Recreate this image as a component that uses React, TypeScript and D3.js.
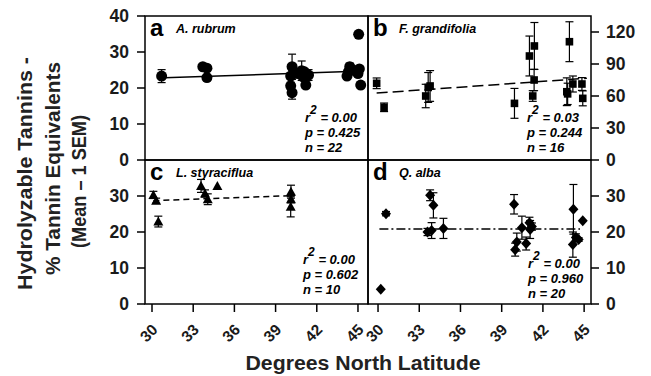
import React from 'react';
import * as d3 from 'd3';

// panel a — A. rubrum (circles)
const aLat = [30.7, 33.7, 34.0, 34.0, 40.2, 40.1, 40.1, 40.2, 40.9, 41.0, 41.2, 41.4, 40.6, 41.1, 44.2, 44.4, 44.6, 45.1, 45.2, 45.05, 44.3, 45.0];
const aVal = [23.3, 25.9, 25.5, 22.9, 25.9, 23.3, 20.6, 18.7, 24.8, 23.1, 20.8, 23.6, 24.0, 24.5, 23.3, 25.9, 25.0, 25.3, 20.8, 34.9, 24.5, 24.0];
const aErr = [1.8, 0.5, 0.5, 0.5, 3.5, 0.8, 1.0, 1.8, 2.7, 0.5, 0.8, 1.5, 0.5, 0.5, 0.5, 1.0, 0.8, 0.5, 0.5, 0, 0.5, 0.5];

// panel b — F. grandifolia (squares)
const bLat = [29.9, 30.44, 33.47, 33.79, 33.65, 39.93, 41.02, 41.38, 41.36, 41.26, 43.93, 43.74, 44.18, 44.84, 44.9, 43.8];
const bVal = [71.9, 49.4, 60, 69.4, 68, 53.1, 97.5, 106.9, 75, 60, 110.9, 64, 71.25, 71.25, 57.8, 62];
const bErr = [5, 4, 11, 14.4, 14, 14, 18.7, 22, 10, 5, 18.7, 13, 7.5, 6, 7, 10];

// panel c — L. styraciflua (triangles)
const cLat = [30.1, 30.3, 30.46, 33.57, 33.86, 34.06, 34.76, 40.12, 40.12, 40.1];
const cVal = [30.3, 28.7, 22.9, 32.8, 30.7, 29.1, 32.8, 31.2, 29.1, 27.0];
const cErr = [1, 0.7, 1.5, 1.8, 1, 1.5, 0.3, 1.8, 1, 2.8];

// panel d — Q. alba (diamonds)
const dLat = [30.2, 30.58, 33.79, 34.03, 33.6, 33.9, 34.76, 39.9, 40.1, 39.98, 40.47, 40.78, 41.02, 41.07, 44.22, 44.18, 44.6, 44.9, 44.4, 41.2];
const dVal = [4.1, 25.1, 30.2, 27.4, 20.0, 20.4, 21.0, 27.7, 17.2, 15.1, 21.2, 16.8, 22.6, 20.7, 26.3, 16.5, 17.9, 23.1, 18.5, 21.5];
const dErr = [0.3, 0.6, 1.5, 3.5, 1, 2.2, 2.8, 2.7, 2.5, 1.8, 3.2, 1.8, 1.5, 2.5, 6.9, 3.5, 0.5, 0.3, 1, 1];

// regression end points [lat0, val0, lat1, val1]
const aFit = [30.35, 22.75, 45.4, 24.75];
const bFit = [29.9, 62.8, 45.2, 76.6];
const cFit = [30.1, 28.7, 40.1, 30.1];
const dFit = [30.1, 20.8, 44.7, 20.8];

const latTicks = [30, 33, 36, 39, 42, 45];
const leftTopTicks = [0, 10, 20, 30, 40];
const lowTicks = [0, 10, 20, 30];
const bTicks = [0, 30, 60, 90, 120];

const FONT = '"Liberation Sans", Arial, Helvetica, sans-serif';

type Shape = 'circle' | 'square' | 'triangle' | 'diamond';

function Marker({ shape, x, y }: { shape: Shape; x: number; y: number }) {
  if (shape === 'circle') return <circle cx={x} cy={y} r={5.5} fill="#000" />;
  if (shape === 'square') return <rect x={x - 3.8} y={y - 3.8} width={7.6} height={7.6} fill="#000" />;
  if (shape === 'triangle') return <path d={`M${x},${y - 5}L${x + 5},${y + 4}L${x - 5},${y + 4}Z`} fill="#000" />;
  return <path d={`M${x},${y - 5.5}L${x + 5},${y}L${x},${y + 5.5}L${x - 5},${y}Z`} fill="#000" />;
}

interface PanelProps {
  lat: number[];
  val: number[];
  err: number[];
  fit: number[];
  dash: string;
  shape: Shape;
  x: d3.ScaleLinear<number, number>;
  y: d3.ScaleLinear<number, number>;
  letter: string;
  species: string;
  stats: string[];
  statsX: number;
  statsY: number;
}

function Panel({ lat, val, err, fit, dash, shape, x, y, letter, species, stats, statsX, statsY }: PanelProps) {
  const [x0, x1] = x.range();
  const [y0, y1] = y.range();
  return (
    <g>
      {/* fit line */}
      <line x1={x(fit[0])} y1={y(fit[1])} x2={x(fit[2])} y2={y(fit[3])} stroke="#000" strokeWidth={1.5} strokeDasharray={dash} />
      {/* error bars */}
      {lat.map((l, i) =>
        err[i] > 0.4 ? (
          <g key={'e' + i} stroke="#000" strokeWidth={1.2}>
            <line x1={x(l)} x2={x(l)} y1={y(val[i] - err[i])} y2={y(val[i] + err[i])} />
            <line x1={x(l) - 4} x2={x(l) + 4} y1={y(val[i] - err[i])} y2={y(val[i] - err[i])} />
            <line x1={x(l) - 4} x2={x(l) + 4} y1={y(val[i] + err[i])} y2={y(val[i] + err[i])} />
          </g>
        ) : null
      )}
      {lat.map((l, i) => (
        <Marker key={'m' + i} shape={shape} x={x(l)} y={y(val[i])} />
      ))}
      <rect x={x0} y={y1} width={x1 - x0} height={y0 - y1} fill="none" stroke="#000" strokeWidth={1.5} />
      <text x={x0 + 5} y={y1 + 20} fontSize={24} fontWeight="bold" fontFamily={FONT}>{letter}</text>
      <text x={x0 + 31} y={y1 + 17} fontSize={12.5} fontWeight="bold" fontStyle="italic" fontFamily={FONT}>{species}</text>
      <text x={statsX} y={statsY} fontSize={13} fontWeight="bold" fontStyle="italic" fontFamily={FONT}>
        r<tspan dy={-8} fontSize={12}>2</tspan><tspan dy={8}> {stats[0]}</tspan>
      </text>
      <text x={statsX} y={statsY + 15} fontSize={13} fontWeight="bold" fontStyle="italic" fontFamily={FONT}>{stats[1]}</text>
      <text x={statsX} y={statsY + 30} fontSize={13} fontWeight="bold" fontStyle="italic" fontFamily={FONT}>{stats[2]}</text>
    </g>
  );
}

export default function App() {
  const xL = d3.scaleLinear().domain([29.49, 45.73]).range([145, 368]);
  const xR = d3.scaleLinear().domain([29.27, 45.5]).range([368, 591]);
  const yTop = d3.scaleLinear().domain([0, 40]).range([160, 16]);
  const yLow = d3.scaleLinear().domain([0, 40]).range([304, 160]);
  const yB = d3.scaleLinear().domain([0, 135]).range([160, 16]);

  const tickLabel = { fontSize: 17.5, fontWeight: 'bold' as const, fontFamily: FONT, fill: '#1a1a1a' };

  return (
    <svg width={651} height={376} style={{ position: 'absolute', left: 0, top: 0, background: '#fff' }}>
      <rect width={651} height={376} fill="#fff" />
      <Panel lat={aLat} val={aVal} err={aErr} fit={aFit} dash="none" shape="circle" x={xL} y={yTop}
        letter="a" species="A. rubrum" stats={['= 0.00', 'p = 0.425', 'n = 22']} statsX={305} statsY={122} />
      <Panel lat={bLat} val={bVal} err={bErr} fit={bFit} dash="11,5" shape="square" x={xR} y={yB}
        letter="b" species="F. grandifolia" stats={['= 0.03', 'p = 0.244', 'n = 16']} statsX={527} statsY={122} />
      <Panel lat={cLat} val={cVal} err={cErr} fit={cFit} dash="6,4" shape="triangle" x={xL} y={yLow}
        letter="c" species="L. styraciflua" stats={['= 0.00', 'p = 0.602', 'n = 10']} statsX={303} statsY={264} />
      <Panel lat={dLat} val={dVal} err={dErr} fit={dFit} dash="9,3,2,3" shape="diamond" x={xR} y={yLow}
        letter="d" species="Q. alba" stats={['= 0.00', 'p = 0.960', 'n = 20']} statsX={528} statsY={268} />

      {/* left axes */}
      {leftTopTicks.map((t) => (
        <g key={'lt' + t}>
          <line x1={137} x2={145} y1={yTop(t)} y2={yTop(t)} stroke="#000" strokeWidth={1.5} />
          <text x={129} y={yTop(t)} dy="0.36em" textAnchor="end" {...tickLabel}>{t}</text>
        </g>
      ))}
      {lowTicks.map((t) => (
        <g key={'ll' + t}>
          <line x1={137} x2={145} y1={yLow(t)} y2={yLow(t)} stroke="#000" strokeWidth={1.5} />
          <text x={129} y={yLow(t)} dy="0.36em" textAnchor="end" {...tickLabel}>{t}</text>
        </g>
      ))}
      {/* right axes */}
      {bTicks.map((t) => (
        <g key={'rb' + t}>
          <line x1={591} x2={599} y1={yB(t)} y2={yB(t)} stroke="#000" strokeWidth={1.5} />
          <text x={606} y={yB(t)} dy="0.36em" {...tickLabel}>{t}</text>
        </g>
      ))}
      {lowTicks.map((t) => (
        <g key={'rl' + t}>
          <line x1={591} x2={599} y1={yLow(t)} y2={yLow(t)} stroke="#000" strokeWidth={1.5} />
          <text x={606} y={yLow(t)} dy="0.36em" {...tickLabel}>{t}</text>
        </g>
      ))}
      {/* x axes */}
      {[xL, xR].map((sc, k) =>
        latTicks.map((t) => (
          <g key={'x' + k + t}>
            <line x1={sc(t)} x2={sc(t)} y1={304} y2={312} stroke="#000" strokeWidth={1.5} />
            <text transform={`translate(${sc(t) - 1},${323}) rotate(-45)`} textAnchor="end" dy="0.7em"
              fontSize={15.5} fontWeight="bold" fontFamily={FONT} fill="#1a1a1a">{t}</text>
          </g>
        ))
      )}
      <text x={363} y={370} textAnchor="middle" fontSize={20} fontWeight="bold" fontFamily={FONT} fill="#222"
        textLength={235} lengthAdjust="spacingAndGlyphs">
        Degrees North Latitude
      </text>
      <g fontSize={19.5} fontWeight="bold" fontFamily={FONT} fill="#222" textAnchor="middle">
        <text transform="translate(32,173.5) rotate(-90)" textLength={233} lengthAdjust="spacingAndGlyphs">Hydrolyzable Tannins -</text>
        <text transform="translate(60,168.5) rotate(-90)" textLength={213} lengthAdjust="spacingAndGlyphs">% Tannin Equivalents</text>
        <text transform="translate(86,181.5) rotate(-90)" textLength={133} lengthAdjust="spacingAndGlyphs">(Mean – 1 SEM)</text>
      </g>
    </svg>
  );
}
